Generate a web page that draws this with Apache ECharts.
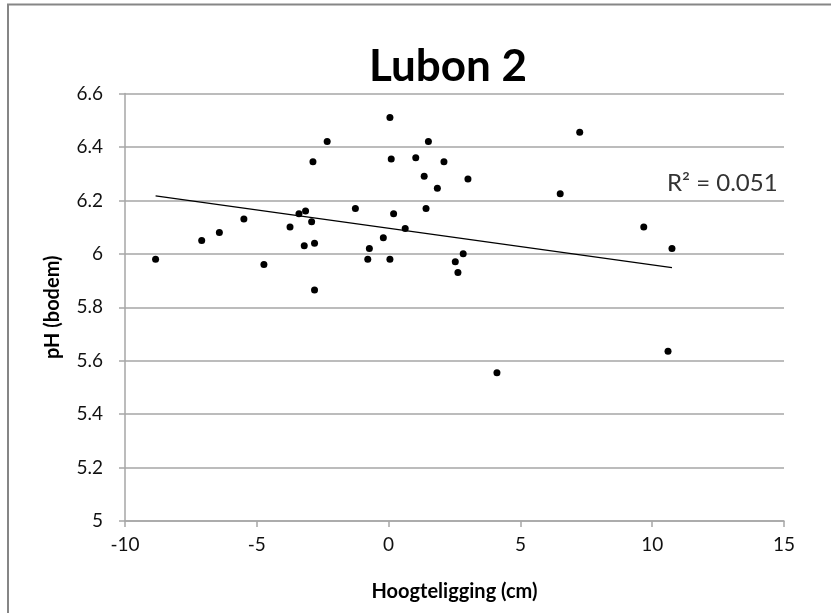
<!DOCTYPE html>
<html>
<head>
<meta charset="utf-8">
<title>Lubon 2</title>
<script src="https://cdn.jsdelivr.net/npm/echarts@6/dist/echarts.min.js"></script>
<style>
  html, body { margin: 0; padding: 0; background: #ffffff; }
  #chart { width: 831px; height: 613px; }
</style>
</head>
<body>
<div id="chart"></div>
<script>
// Height above reference level (cm) and soil pH per sample
const hoogte = [-8.84, -7.09, -6.42, -5.49, -4.73, -3.74, -3.40, -3.15, -2.92, -3.20,
                -2.81, -2.81, -2.87, -2.33, -1.26, -0.79, -0.73, -0.20, 0.05, 0.10,
                0.19, 0.05, 0.63, 1.51, 1.03, 2.10, 1.35, 3.01, 1.85, 6.51,
                7.25, 1.42, 2.83, 2.53, 2.63, 9.68, 10.75, 10.60, 4.11];
const phBodem = [5.98, 6.05, 6.08, 6.13, 5.96, 6.10, 6.15, 6.16, 6.12, 6.03,
                 6.04, 5.865, 6.345, 6.42, 6.17, 5.98, 6.02, 6.06, 6.51, 6.355,
                 6.15, 5.98, 6.095, 6.42, 6.36, 6.345, 6.29, 6.28, 6.245, 6.225,
                 6.455, 6.17, 6.00, 5.97, 5.93, 6.10, 6.02, 5.635, 5.555];

// Linear trend line (start and end of the fitted line)
const trendX = [-8.84, 10.75];
const trendY = [6.217, 5.948];

const xTicks = [-10, -5, 0, 5, 10, 15];
const yTicks = [5, 5.2, 5.4, 5.6, 5.8, 6, 6.2, 6.4, 6.6];
const r2Label = 'R² = 0.051';

const points = hoogte.map((x, i) => [x, phBodem[i]]);
const trend = trendX.map((x, i) => [x, trendY[i]]);

const FONT = 'Lato';
const gridColor = '#a6a6a6';

const chart = echarts.init(document.getElementById('chart'));
chart.setOption({
  animation: false,
  backgroundColor: '#ffffff',
  title: {
    text: 'Lubon 2',
    left: 443,
    top: 40,
    textAlign: 'center',
    textStyle: { fontFamily: FONT, fontWeight: 'bold', fontSize: 44, color: '#000' }
  },
  grid: { left: 125, right: 47, top: 93.5, bottom: 92, containLabel: false },
  xAxis: {
    type: 'value',
    min: xTicks[0],
    max: xTicks[xTicks.length - 1],
    interval: 5,
    name: 'Hoogteligging (cm)',
    nameLocation: 'middle',
    nameGap: 61,
    nameTextStyle: { fontFamily: FONT, fontWeight: 'bold', fontSize: 20, color: '#000' },
    axisLine: { onZero: false, lineStyle: { color: gridColor, width: 1.5 } },
    axisTick: { show: true, length: 6, lineStyle: { color: gridColor, width: 1.5 } },
    axisLabel: { fontFamily: FONT, fontSize: 19, color: '#111', margin: 14 },
    splitLine: { show: false }
  },
  yAxis: {
    type: 'value',
    min: yTicks[0],
    max: yTicks[yTicks.length - 1],
    interval: 0.2,
    name: 'pH (bodem)',
    nameLocation: 'middle',
    nameGap: 62,
    nameTextStyle: { fontFamily: FONT, fontWeight: 'bold', fontSize: 20, color: '#000' },
    axisLine: { show: true, onZero: false, lineStyle: { color: gridColor, width: 1.5 } },
    axisTick: { show: true, length: 6, lineStyle: { color: gridColor, width: 1.5 } },
    axisLabel: { fontFamily: FONT, fontSize: 19, color: '#111', margin: 22 },
    splitLine: { show: true, lineStyle: { color: gridColor, width: 1.5 } }
  },
  series: [
    {
      type: 'scatter',
      data: points,
      symbol: 'circle',
      symbolSize: 7,
      itemStyle: { color: '#000', opacity: 1 },
      z: 3
    },
    {
      type: 'line',
      data: trend,
      symbol: 'none',
      lineStyle: { color: '#000', width: 1.2 },
      z: 2
    }
  ],
  graphic: [
    {
      type: 'rect',
      shape: { x: 8, y: 4.5, width: 860, height: 640 },
      style: { fill: null, stroke: '#868686', lineWidth: 2 },
      silent: true
    },
    {
      type: 'text',
      left: 667,
      top: 171,
      style: { text: r2Label, fontFamily: FONT, fontSize: 24, fill: '#333' },
      silent: true
    }
  ]
});
</script>
</body>
</html>
